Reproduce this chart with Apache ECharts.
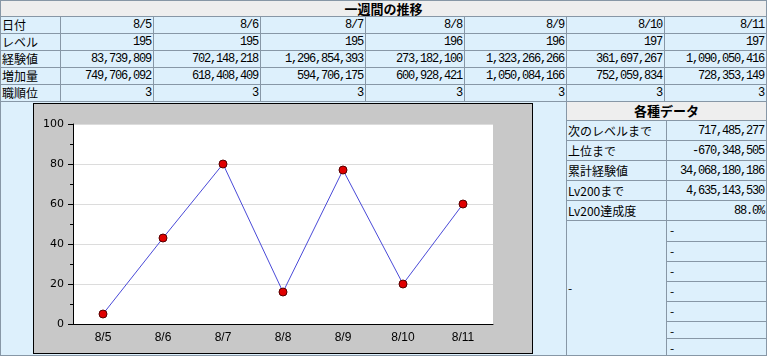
<!DOCTYPE html>
<html><head><meta charset="utf-8">
<script src="https://cdn.jsdelivr.net/npm/echarts@6/dist/echarts.min.js"></script>
<style>
html,body{margin:0;padding:0;width:768px;height:357px;overflow:hidden;background:#fff;}
.c{position:absolute;box-sizing:border-box;border:1px solid #8797a6;background:#ddf0fc;
  font-family:"Noto Sans CJK JP",sans-serif;font-size:12px;line-height:14px;white-space:nowrap;overflow:hidden;color:#000;
  display:flex;align-items:center;}
.num{font-family:"Liberation Mono",monospace;letter-spacing:-1.2px;font-size:12px;}
.hd{background:#eeeeee;justify-content:center;font-weight:bold;font-size:13px;}
.r{justify-content:flex-end;padding-right:2px;}
.l{justify-content:flex-start;padding-left:1px;}
</style></head><body>
<div id="root"></div>
<div id="panel" style="position:absolute;left:33px;top:103px;width:498px;height:249px;border:1px solid #000;background:#c8c8c8;"></div>
<script>
// ---- data ----
var title = '一週間の推移';
var rowLabels = ['日付', 'レベル', '経験値', '増加量', '職順位'];
var dates = ['8/5', '8/6', '8/7', '8/8', '8/9', '8/10', '8/11'];
var levels = [195, 195, 195, 196, 196, 197, 197];
var exps = [83739809, 702148218, 1296854393, 273182100, 1323266266, 361697267, 1090050416];
var gains = [749706092, 618408409, 594706175, 600928421, 1050084166, 752059834, 728353149];
var ranks = [3, 3, 3, 3, 3, 3, 3];
var chartValues = [5, 43, 80, 16, 77, 20, 60];
var sideTitle = '各種データ';
var sideLabels = ['次のレベルまで', '上位まで', '累計経験値', 'Lv200まで', 'Lv200達成度'];
var sideValues = ['717,485,277', '-670,348,505', '34,068,180,186', '4,635,143,530', '88.0%'];
var blankLeft = '-';
var blankRight = ['-', '-', '-', '-', '-', '-', '-'];

function fmt(n){ return String(n).replace(/\B(?=(\d{3})+(?!\d))/g, ','); }

var root = document.getElementById('root');
function cell(x0, y0, x1, y1, text, cls, numeric){
  var d = document.createElement('div');
  d.className = 'c ' + (cls || '');
  d.style.left = x0 + 'px'; d.style.top = y0 + 'px';
  d.style.width = (x1 - x0 + 1) + 'px'; d.style.height = (y1 - y0 + 1) + 'px';
  if (text !== undefined && text !== null) {
    var s = document.createElement('span');
    if (numeric) s.className = 'num';
    s.textContent = text;
    d.appendChild(s);
  }
  root.appendChild(d);
  return d;
}

var X = [0, 60, 153, 260, 365, 464, 566, 664, 766];
var Y = [0, 16, 33, 50, 67, 84, 101];
cell(X[0], Y[0], X[8], Y[1], title, 'hd');
var rows = [dates, levels, exps.map(fmt), gains.map(fmt), ranks];
for (var r = 0; r < 5; r++) {
  cell(X[0], Y[r+1], X[1], Y[r+2], rowLabels[r], 'l');
  for (var k = 0; k < 7; k++) {
    cell(X[k+1], Y[r+1], X[k+2], Y[r+2], String(rows[r][k]), 'r', true);
  }
}
// left area behind chart
cell(0, 101, 566, 355, null, '');
// side panel
var SX = [566, 666, 766];
var SY = [101, 120, 140, 160, 180, 200, 220];
cell(SX[0], SY[0], SX[2], SY[1], sideTitle, 'hd');
for (var i = 0; i < 5; i++) {
  cell(SX[0], SY[i+1], SX[1], SY[i+2], sideLabels[i], 'l');
  cell(SX[1], SY[i+1], SX[2], SY[i+2], sideValues[i], 'r', true);
}
cell(SX[0], 220, SX[1], 355, blankLeft, 'l');
var BY = [220, 241, 261, 281, 301, 321, 338, 355];
for (var j = 0; j < 7; j++) {
  var d = cell(SX[1], BY[j], SX[2], BY[j+1], blankRight[j], 'l');
  d.style.alignItems = 'flex-start';
  d.style.paddingLeft = '3px';
  d.style.paddingTop = '2px';
}

var chart = echarts.init(document.getElementById('panel'));
chart.setOption({
  animation: false,
  grid: {left: 39, top: 20, width: 420, height: 200, show: true, backgroundColor: '#fff', borderWidth: 0},
  xAxis: {type: 'category', data: dates, boundaryGap: true,
    axisLine: {lineStyle: {color: '#000', width: 1}},
    axisTick: {alignWithLabel: true, length: 5, lineStyle: {color: '#000'}},
    axisLabel: {color: '#000', fontSize: 12, fontFamily: 'Liberation Sans', margin: 8}},
  yAxis: {type: 'value', min: 0, max: 100, interval: 20,
    axisLine: {show: true, lineStyle: {color: '#000'}},
    axisTick: {show: true, length: 5, lineStyle: {color: '#000'}},
    minorTick: {show: true, splitNumber: 2, length: 3, lineStyle: {color: '#000'}},
    splitLine: {lineStyle: {color: '#dcdcdc'}},
    axisLabel: {color: '#000', fontSize: 11, fontFamily: 'DejaVu Sans', margin: 9}},
  series: [{type: 'line', data: chartValues, symbol: 'circle', symbolSize: 8,
    lineStyle: {color: '#4a4ad8', width: 1},
    itemStyle: {color: '#e00000', borderColor: '#550000', borderWidth: 1}}]
});
</script>
</body></html>
